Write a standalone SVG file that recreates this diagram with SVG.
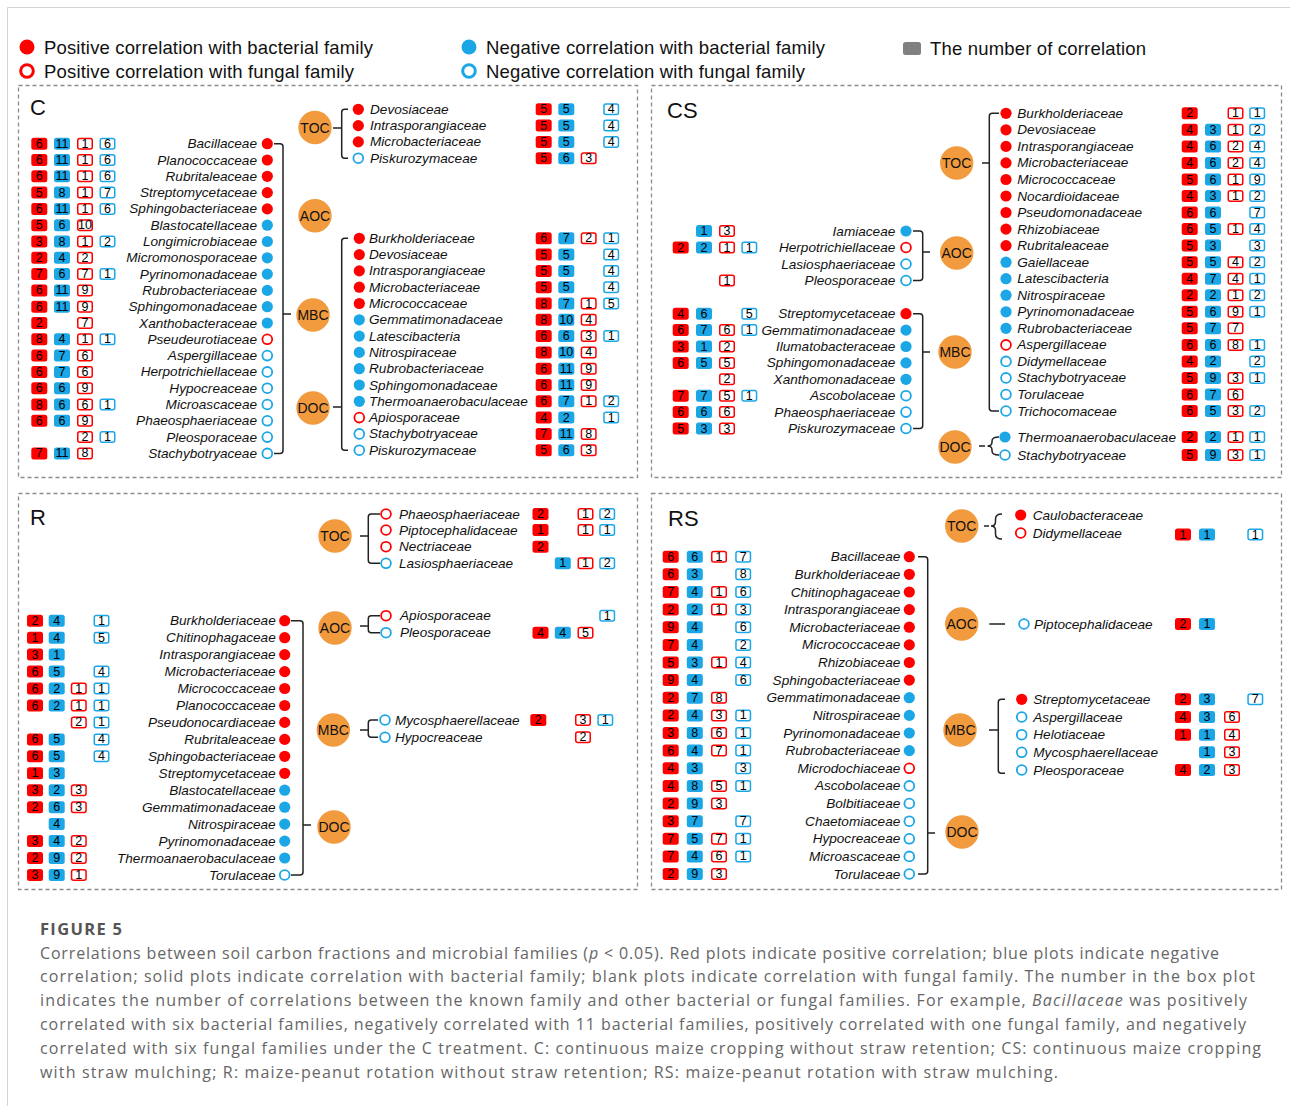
<svg xmlns="http://www.w3.org/2000/svg" xmlns:xlink="http://www.w3.org/1999/xlink" width="1290" height="1106" viewBox="0 0 1290 1106">
<style>
.f{font-family:"Liberation Sans",Arial,sans-serif;font-style:italic;font-size:13.6px;fill:#111;dominant-baseline:central}
.e{text-anchor:end}
.n{font-family:"Liberation Sans",Arial,sans-serif;font-size:12.5px;text-anchor:middle;dominant-baseline:central;fill:#000}
.hub circle{fill:#F19A3E}
.hub text{font-family:"Liberation Sans",Arial,sans-serif;font-size:14px;text-anchor:middle;dominant-baseline:central;fill:#111}
.pl{font-family:"Liberation Sans",Arial,sans-serif;font-size:22px;fill:#111}
.lg{font-family:"Liberation Sans",Arial,sans-serif;font-size:18.5px;fill:#111;dominant-baseline:central}
.panel{fill:none;stroke:#8c8c8c;stroke-width:1.3;stroke-dasharray:4 3}
.br{fill:none;stroke:#222;stroke-width:1.5}
.cap{font-family:"Open Sans","Liberation Sans",sans-serif;font-size:16px;fill:#666}
.caph{font-family:"Open Sans","Liberation Sans",sans-serif;font-size:16.5px;font-weight:bold;fill:#555}
</style>
<defs>
<rect id="RF" x="-8" y="-6" width="16" height="12" rx="2.5" fill="#FF0000"/>
<rect id="BF" x="-8" y="-6" width="16" height="12" rx="2.5" fill="#1BA6E6"/>
<rect id="RO" x="-7.25" y="-5.25" width="14.5" height="10.5" rx="2" fill="#fff" stroke="#FF0000" stroke-width="1.5"/>
<rect id="BO" x="-7.25" y="-5.25" width="14.5" height="10.5" rx="2" fill="#fff" stroke="#1BA6E6" stroke-width="1.5"/>
<circle id="DR" r="5.6" fill="#FF0000"/>
<circle id="DB" r="5.6" fill="#1BA6E6"/>
<circle id="OR" r="4.9" fill="#fff" stroke="#FF0000" stroke-width="1.8"/>
<circle id="OB" r="4.9" fill="#fff" stroke="#1BA6E6" stroke-width="1.8"/>
</defs>
<rect width="1290" height="1106" fill="#fff"/>
<path d="M7.5 1106 V7.5 H1290" fill="none" stroke="#d4d4d4" stroke-width="1"/>

<g id="legend">
<circle cx="27" cy="47" r="7.5" fill="#FF0000"/>
<text class="lg" x="44" y="47" textLength="329">Positive correlation with bacterial family</text>
<circle cx="27" cy="71" r="6.3" fill="#fff" stroke="#FF0000" stroke-width="3"/>
<text class="lg" x="44" y="71" textLength="310">Positive correlation with fungal family</text>
<circle cx="469" cy="47" r="7.5" fill="#1BA6E6"/>
<text class="lg" x="486" y="47" textLength="339">Negative correlation with bacterial family</text>
<circle cx="469" cy="71" r="6.3" fill="#fff" stroke="#1BA6E6" stroke-width="3"/>
<text class="lg" x="486" y="71" textLength="319">Negative correlation with fungal family</text>
<rect x="903" y="42" width="18" height="13" rx="2.5" fill="#808080"/>
<text class="lg" x="930" y="48" textLength="216">The number of correlation</text>
</g>

<g id="panels">
<rect class="panel" x="18.5" y="85.5" width="619" height="392"/>
<rect class="panel" x="651.5" y="85.5" width="630" height="392"/>
<rect class="panel" x="18.5" y="493.5" width="619" height="396"/>
<rect class="panel" x="651.5" y="493.5" width="630" height="396"/>
<text class="pl" x="30" y="115">C</text>
<text class="pl" x="667" y="118">CS</text>
<text class="pl" x="30" y="525">R</text>
<text class="pl" x="668" y="526">RS</text>
</g>

<g id="connectors">
<path class="br" d="M274 143.7 H280 Q283 143.7 283 146.7 V450.4 Q283 453.4 280 453.4 H274 M283 314 H291"/>
<path class="br" d="M348 109.3 H344.7 Q341.7 109.3 341.7 112.3 V155.2 Q341.7 158.2 344.7 158.2 H348 M341.7 128 H333"/>
<path class="br" d="M348 238.3 H344.7 Q341.7 238.3 341.7 241.3 V447.2 Q341.7 450.2 344.7 450.2 H348 M341.7 407 H333"/>
<path class="br" d="M913 231 H919.7 Q922.7 231 922.7 234 V277.5 Q922.7 280.5 919.7 280.5 H913 M922.7 252 H930"/>
<path class="br" d="M913 313.7 H919.7 Q922.7 313.7 922.7 316.7 V425.5 Q922.7 428.5 919.7 428.5 H913 M922.7 352 H930"/>
<path class="br" d="M999 113.3 H992.3 Q989.3 113.3 989.3 116.3 V408 Q989.3 411 992.3 411 H999 M989.3 163 H982"/>
<path class="br" d="M999 437 Q992 437 992 441 V442 Q992 446 987.5 446 Q992 446 992 450 V451 Q992 455 999 455 M979 446 H985"/>
<path class="br" d="M291 620.7 H300 Q303 620.7 303 623.7 V872 Q303 875 300 875 H291 M303 825 H311"/>
<path class="br" d="M380 514 H371.3 Q368.3 514 368.3 517 V560.3 Q368.3 563.3 371.3 563.3 H380 M368.3 536 H360"/>
<path class="br" d="M380 615.7 H371.3 Q368.3 615.7 368.3 618.7 V629.7 Q368.3 632.7 371.3 632.7 H380 M368.3 626 H360"/>
<path class="br" d="M378 720 H371.3 Q368.3 720 368.3 723 V734.3 Q368.3 737.3 371.3 737.3 H378 M368.3 730 H360"/>
<path class="br" d="M918 556.7 H924.7 Q927.7 556.7 927.7 559.7 V871 Q927.7 874 924.7 874 H918 M927.7 833 H935"/>
<path class="br" d="M1002 514 Q995.5 514 995.5 519 V521.5 Q995.5 526 991 526 Q995.5 526 995.5 530.5 V534 Q995.5 539 1002 539 M984 526 H989"/>
<path class="br" d="M989.3 624 H1005"/>
<path class="br" d="M1005 699.3 H1001.3 Q998.3 699.3 998.3 702.3 V770.3 Q998.3 773.3 1001.3 773.3 H1005 M998.3 730 H989"/>
</g>

<!-- hubs -->
<g id="c-toc" class="hub"><circle cx="315" cy="127.5" r="16.7"/><text x="315" y="127.5">TOC</text></g>
<g id="c-aoc" class="hub"><circle cx="315" cy="215.7" r="16.7"/><text x="315" y="215.7">AOC</text></g>
<g id="c-mbc" class="hub"><circle cx="313" cy="315" r="16.7"/><text x="313" y="315">MBC</text></g>
<g id="c-doc" class="hub"><circle cx="313" cy="408" r="16.7"/><text x="313" y="408">DOC</text></g>
<g id="cs-toc" class="hub"><circle cx="956.7" cy="163" r="16.7"/><text x="956.7" y="163">TOC</text></g>
<g id="cs-aoc" class="hub"><circle cx="956.7" cy="253" r="16.7"/><text x="956.7" y="253">AOC</text></g>
<g id="cs-mbc" class="hub"><circle cx="955" cy="352" r="16.7"/><text x="955" y="352">MBC</text></g>
<g id="cs-doc" class="hub"><circle cx="955" cy="447" r="16.7"/><text x="955" y="447">DOC</text></g>
<g id="r-toc" class="hub"><circle cx="335" cy="536" r="16.7"/><text x="335" y="536">TOC</text></g>
<g id="r-aoc" class="hub"><circle cx="335" cy="628" r="16.7"/><text x="335" y="628">AOC</text></g>
<g id="r-mbc" class="hub"><circle cx="333.3" cy="730" r="16.7"/><text x="333.3" y="730">MBC</text></g>
<g id="r-doc" class="hub"><circle cx="334" cy="827" r="16.7"/><text x="334" y="827">DOC</text></g>
<g id="rs-toc" class="hub"><circle cx="961.7" cy="526" r="16.7"/><text x="961.7" y="526">TOC</text></g>
<g id="rs-aoc" class="hub"><circle cx="961.7" cy="624" r="16.7"/><text x="961.7" y="624">AOC</text></g>
<g id="rs-mbc" class="hub"><circle cx="960" cy="730" r="16.7"/><text x="960" y="730">MBC</text></g>
<g id="rs-doc" class="hub"><circle cx="962" cy="832" r="16.7"/><text x="962" y="832">DOC</text></g>

<!-- C left (MBC) -->
<g id="c-mbc-01" transform="translate(0,143.7)"><use href="#DR" x="267.3"/><text class="f e" x="257">Bacillaceae</text><use href="#RF" x="39.3"/><text class="n" x="39.3">6</text><use href="#BF" x="62"/><text class="n" x="62">11</text><use href="#RO" x="85"/><text class="n" x="85">1</text><use href="#BO" x="107.5"/><text class="n" x="107.5">6</text></g>
<g id="c-mbc-02" transform="translate(0,160)"><use href="#DR" x="267.3"/><text class="f e" x="257">Planococcaceae</text><use href="#RF" x="39.3"/><text class="n" x="39.3">6</text><use href="#BF" x="62"/><text class="n" x="62">11</text><use href="#RO" x="85"/><text class="n" x="85">1</text><use href="#BO" x="107.5"/><text class="n" x="107.5">6</text></g>
<g id="c-mbc-03" transform="translate(0,176.3)"><use href="#DR" x="267.3"/><text class="f e" x="257">Rubritaleaceae</text><use href="#RF" x="39.3"/><text class="n" x="39.3">6</text><use href="#BF" x="62"/><text class="n" x="62">11</text><use href="#RO" x="85"/><text class="n" x="85">1</text><use href="#BO" x="107.5"/><text class="n" x="107.5">6</text></g>
<g id="c-mbc-04" transform="translate(0,192.6)"><use href="#DR" x="267.3"/><text class="f e" x="257">Streptomycetaceae</text><use href="#RF" x="39.3"/><text class="n" x="39.3">5</text><use href="#BF" x="62"/><text class="n" x="62">8</text><use href="#RO" x="85"/><text class="n" x="85">1</text><use href="#BO" x="107.5"/><text class="n" x="107.5">7</text></g>
<g id="c-mbc-05" transform="translate(0,208.9)"><use href="#DR" x="267.3"/><text class="f e" x="257">Sphingobacteriaceae</text><use href="#RF" x="39.3"/><text class="n" x="39.3">6</text><use href="#BF" x="62"/><text class="n" x="62">11</text><use href="#RO" x="85"/><text class="n" x="85">1</text><use href="#BO" x="107.5"/><text class="n" x="107.5">6</text></g>
<g id="c-mbc-06" transform="translate(0,225.2)"><use href="#DB" x="267.3"/><text class="f e" x="257">Blastocatellaceae</text><use href="#RF" x="39.3"/><text class="n" x="39.3">5</text><use href="#BF" x="62"/><text class="n" x="62">6</text><use href="#RO" x="85"/><text class="n" x="85">10</text></g>
<g id="c-mbc-07" transform="translate(0,241.5)"><use href="#DB" x="267.3"/><text class="f e" x="257">Longimicrobiaceae</text><use href="#RF" x="39.3"/><text class="n" x="39.3">3</text><use href="#BF" x="62"/><text class="n" x="62">8</text><use href="#RO" x="85"/><text class="n" x="85">1</text><use href="#BO" x="107.5"/><text class="n" x="107.5">2</text></g>
<g id="c-mbc-08" transform="translate(0,257.8)"><use href="#DB" x="267.3"/><text class="f e" x="257">Micromonosporaceae</text><use href="#RF" x="39.3"/><text class="n" x="39.3">2</text><use href="#BF" x="62"/><text class="n" x="62">4</text><use href="#RO" x="85"/><text class="n" x="85">2</text></g>
<g id="c-mbc-09" transform="translate(0,274.1)"><use href="#DB" x="267.3"/><text class="f e" x="257">Pyrinomonadaceae</text><use href="#RF" x="39.3"/><text class="n" x="39.3">7</text><use href="#BF" x="62"/><text class="n" x="62">6</text><use href="#RO" x="85"/><text class="n" x="85">7</text><use href="#BO" x="107.5"/><text class="n" x="107.5">1</text></g>
<g id="c-mbc-10" transform="translate(0,290.4)"><use href="#DB" x="267.3"/><text class="f e" x="257">Rubrobacteriaceae</text><use href="#RF" x="39.3"/><text class="n" x="39.3">6</text><use href="#BF" x="62"/><text class="n" x="62">11</text><use href="#RO" x="85"/><text class="n" x="85">9</text></g>
<g id="c-mbc-11" transform="translate(0,306.7)"><use href="#DB" x="267.3"/><text class="f e" x="257">Sphingomonadaceae</text><use href="#RF" x="39.3"/><text class="n" x="39.3">6</text><use href="#BF" x="62"/><text class="n" x="62">11</text><use href="#RO" x="85"/><text class="n" x="85">9</text></g>
<g id="c-mbc-12" transform="translate(0,323)"><use href="#DB" x="267.3"/><text class="f e" x="257">Xanthobacteraceae</text><use href="#RF" x="39.3"/><text class="n" x="39.3">2</text><use href="#RO" x="85"/><text class="n" x="85">7</text></g>
<g id="c-mbc-13" transform="translate(0,339.3)"><use href="#OR" x="267.3"/><text class="f e" x="257">Pseudeurotiaceae</text><use href="#RF" x="39.3"/><text class="n" x="39.3">8</text><use href="#BF" x="62"/><text class="n" x="62">4</text><use href="#RO" x="85"/><text class="n" x="85">1</text><use href="#BO" x="107.5"/><text class="n" x="107.5">1</text></g>
<g id="c-mbc-14" transform="translate(0,355.6)"><use href="#OB" x="267.3"/><text class="f e" x="257">Aspergillaceae</text><use href="#RF" x="39.3"/><text class="n" x="39.3">6</text><use href="#BF" x="62"/><text class="n" x="62">7</text><use href="#RO" x="85"/><text class="n" x="85">6</text></g>
<g id="c-mbc-15" transform="translate(0,371.9)"><use href="#OB" x="267.3"/><text class="f e" x="257">Herpotrichiellaceae</text><use href="#RF" x="39.3"/><text class="n" x="39.3">6</text><use href="#BF" x="62"/><text class="n" x="62">7</text><use href="#RO" x="85"/><text class="n" x="85">6</text></g>
<g id="c-mbc-16" transform="translate(0,388.2)"><use href="#OB" x="267.3"/><text class="f e" x="257">Hypocreaceae</text><use href="#RF" x="39.3"/><text class="n" x="39.3">6</text><use href="#BF" x="62"/><text class="n" x="62">6</text><use href="#RO" x="85"/><text class="n" x="85">9</text></g>
<g id="c-mbc-17" transform="translate(0,404.5)"><use href="#OB" x="267.3"/><text class="f e" x="257">Microascaceae</text><use href="#RF" x="39.3"/><text class="n" x="39.3">8</text><use href="#BF" x="62"/><text class="n" x="62">6</text><use href="#RO" x="85"/><text class="n" x="85">6</text><use href="#BO" x="107.5"/><text class="n" x="107.5">1</text></g>
<g id="c-mbc-18" transform="translate(0,420.8)"><use href="#OB" x="267.3"/><text class="f e" x="257">Phaeosphaeriaceae</text><use href="#RF" x="39.3"/><text class="n" x="39.3">6</text><use href="#BF" x="62"/><text class="n" x="62">6</text><use href="#RO" x="85"/><text class="n" x="85">9</text></g>
<g id="c-mbc-19" transform="translate(0,437.1)"><use href="#OB" x="267.3"/><text class="f e" x="257">Pleosporaceae</text><use href="#RO" x="85"/><text class="n" x="85">2</text><use href="#BO" x="107.5"/><text class="n" x="107.5">1</text></g>
<g id="c-mbc-20" transform="translate(0,453.4)"><use href="#OB" x="267.3"/><text class="f e" x="257">Stachybotryaceae</text><use href="#RF" x="39.3"/><text class="n" x="39.3">7</text><use href="#BF" x="62"/><text class="n" x="62">11</text><use href="#RO" x="85"/><text class="n" x="85">8</text></g>

<!-- C TOC -->
<g id="c-toc-1" transform="translate(0,109.3)"><use href="#DR" x="358.3"/><text class="f" x="370">Devosiaceae</text><use href="#RF" x="543.7"/><text class="n" x="543.7">5</text><use href="#BF" x="566.3"/><text class="n" x="566.3">5</text><use href="#BO" x="611.2"/><text class="n" x="611.2">4</text></g>
<g id="c-toc-2" transform="translate(0,125.6)"><use href="#DR" x="358.3"/><text class="f" x="370">Intrasporangiaceae</text><use href="#RF" x="543.7"/><text class="n" x="543.7">5</text><use href="#BF" x="566.3"/><text class="n" x="566.3">5</text><use href="#BO" x="611.2"/><text class="n" x="611.2">4</text></g>
<g id="c-toc-3" transform="translate(0,141.9)"><use href="#DR" x="358.3"/><text class="f" x="370">Microbacteriaceae</text><use href="#RF" x="543.7"/><text class="n" x="543.7">5</text><use href="#BF" x="566.3"/><text class="n" x="566.3">5</text><use href="#BO" x="611.2"/><text class="n" x="611.2">4</text></g>
<g id="c-toc-4" transform="translate(0,158.2)"><use href="#OB" x="358.3"/><text class="f" x="370">Piskurozymaceae</text><use href="#RF" x="543.7"/><text class="n" x="543.7">5</text><use href="#BF" x="566.3"/><text class="n" x="566.3">6</text><use href="#RO" x="588.7"/><text class="n" x="588.7">3</text></g>

<!-- C DOC -->
<g id="c-doc-01" transform="translate(0,238.3)"><use href="#DR" x="359.3"/><text class="f" x="369">Burkholderiaceae</text><use href="#RF" x="543.7"/><text class="n" x="543.7">6</text><use href="#BF" x="566.3"/><text class="n" x="566.3">7</text><use href="#RO" x="588.7"/><text class="n" x="588.7">2</text><use href="#BO" x="611.2"/><text class="n" x="611.2">1</text></g>
<g id="c-doc-02" transform="translate(0,254.6)"><use href="#DR" x="359.3"/><text class="f" x="369">Devosiaceae</text><use href="#RF" x="543.7"/><text class="n" x="543.7">5</text><use href="#BF" x="566.3"/><text class="n" x="566.3">5</text><use href="#BO" x="611.2"/><text class="n" x="611.2">4</text></g>
<g id="c-doc-03" transform="translate(0,270.9)"><use href="#DR" x="359.3"/><text class="f" x="369">Intrasporangiaceae</text><use href="#RF" x="543.7"/><text class="n" x="543.7">5</text><use href="#BF" x="566.3"/><text class="n" x="566.3">5</text><use href="#BO" x="611.2"/><text class="n" x="611.2">4</text></g>
<g id="c-doc-04" transform="translate(0,287.2)"><use href="#DR" x="359.3"/><text class="f" x="369">Microbacteriaceae</text><use href="#RF" x="543.7"/><text class="n" x="543.7">5</text><use href="#BF" x="566.3"/><text class="n" x="566.3">5</text><use href="#BO" x="611.2"/><text class="n" x="611.2">4</text></g>
<g id="c-doc-05" transform="translate(0,303.5)"><use href="#DR" x="359.3"/><text class="f" x="369">Micrococcaceae</text><use href="#RF" x="543.7"/><text class="n" x="543.7">8</text><use href="#BF" x="566.3"/><text class="n" x="566.3">7</text><use href="#RO" x="588.7"/><text class="n" x="588.7">1</text><use href="#BO" x="611.2"/><text class="n" x="611.2">5</text></g>
<g id="c-doc-06" transform="translate(0,319.8)"><use href="#DB" x="359.3"/><text class="f" x="369">Gemmatimonadaceae</text><use href="#RF" x="543.7"/><text class="n" x="543.7">8</text><use href="#BF" x="566.3"/><text class="n" x="566.3">10</text><use href="#RO" x="588.7"/><text class="n" x="588.7">4</text></g>
<g id="c-doc-07" transform="translate(0,336.1)"><use href="#DB" x="359.3"/><text class="f" x="369">Latescibacteria</text><use href="#RF" x="543.7"/><text class="n" x="543.7">6</text><use href="#BF" x="566.3"/><text class="n" x="566.3">6</text><use href="#RO" x="588.7"/><text class="n" x="588.7">3</text><use href="#BO" x="611.2"/><text class="n" x="611.2">1</text></g>
<g id="c-doc-08" transform="translate(0,352.4)"><use href="#DB" x="359.3"/><text class="f" x="369">Nitrospiraceae</text><use href="#RF" x="543.7"/><text class="n" x="543.7">8</text><use href="#BF" x="566.3"/><text class="n" x="566.3">10</text><use href="#RO" x="588.7"/><text class="n" x="588.7">4</text></g>
<g id="c-doc-09" transform="translate(0,368.7)"><use href="#DB" x="359.3"/><text class="f" x="369">Rubrobacteriaceae</text><use href="#RF" x="543.7"/><text class="n" x="543.7">6</text><use href="#BF" x="566.3"/><text class="n" x="566.3">11</text><use href="#RO" x="588.7"/><text class="n" x="588.7">9</text></g>
<g id="c-doc-10" transform="translate(0,385)"><use href="#DB" x="359.3"/><text class="f" x="369">Sphingomonadaceae</text><use href="#RF" x="543.7"/><text class="n" x="543.7">6</text><use href="#BF" x="566.3"/><text class="n" x="566.3">11</text><use href="#RO" x="588.7"/><text class="n" x="588.7">9</text></g>
<g id="c-doc-11" transform="translate(0,401.3)"><use href="#DB" x="359.3"/><text class="f" x="369">Thermoanaerobaculaceae</text><use href="#RF" x="543.7"/><text class="n" x="543.7">6</text><use href="#BF" x="566.3"/><text class="n" x="566.3">7</text><use href="#RO" x="588.7"/><text class="n" x="588.7">1</text><use href="#BO" x="611.2"/><text class="n" x="611.2">2</text></g>
<g id="c-doc-12" transform="translate(0,417.6)"><use href="#OR" x="359.3"/><text class="f" x="369">Apiosporaceae</text><use href="#RF" x="543.7"/><text class="n" x="543.7">4</text><use href="#BF" x="566.3"/><text class="n" x="566.3">2</text><use href="#BO" x="611.2"/><text class="n" x="611.2">1</text></g>
<g id="c-doc-13" transform="translate(0,433.9)"><use href="#OB" x="359.3"/><text class="f" x="369">Stachybotryaceae</text><use href="#RF" x="543.7"/><text class="n" x="543.7">7</text><use href="#BF" x="566.3"/><text class="n" x="566.3">11</text><use href="#RO" x="588.7"/><text class="n" x="588.7">8</text></g>
<g id="c-doc-14" transform="translate(0,450.2)"><use href="#OB" x="359.3"/><text class="f" x="369">Piskurozymaceae</text><use href="#RF" x="543.7"/><text class="n" x="543.7">5</text><use href="#BF" x="566.3"/><text class="n" x="566.3">6</text><use href="#RO" x="588.7"/><text class="n" x="588.7">3</text></g>

<!-- CS AOC -->
<g id="cs-aoc-1" transform="translate(0,231)"><use href="#DB" x="906"/><text class="f e" x="895.3">Iamiaceae</text><use href="#BF" x="704"/><text class="n" x="704">1</text><use href="#RO" x="727"/><text class="n" x="727">3</text></g>
<g id="cs-aoc-2" transform="translate(0,247.5)"><use href="#OR" x="906"/><text class="f e" x="895.3">Herpotrichiellaceae</text><use href="#RF" x="680.7"/><text class="n" x="680.7">2</text><use href="#BF" x="704"/><text class="n" x="704">2</text><use href="#RO" x="727"/><text class="n" x="727">1</text><use href="#BO" x="749.3"/><text class="n" x="749.3">1</text></g>
<g id="cs-aoc-3" transform="translate(0,264)"><use href="#OB" x="906"/><text class="f e" x="895.3">Lasiosphaeriaceae</text></g>
<g id="cs-aoc-4" transform="translate(0,280.5)"><use href="#OB" x="906"/><text class="f e" x="895.3">Pleosporaceae</text><use href="#RO" x="727"/><text class="n" x="727">1</text></g>

<!-- CS MBC -->
<g id="cs-mbc-1" transform="translate(0,313.7)"><use href="#DR" x="906"/><text class="f e" x="895.3">Streptomycetaceae</text><use href="#RF" x="680.7"/><text class="n" x="680.7">4</text><use href="#BF" x="704"/><text class="n" x="704">6</text><use href="#BO" x="749.3"/><text class="n" x="749.3">5</text></g>
<g id="cs-mbc-2" transform="translate(0,330.1)"><use href="#DB" x="906"/><text class="f e" x="895.3">Gemmatimonadaceae</text><use href="#RF" x="680.7"/><text class="n" x="680.7">6</text><use href="#BF" x="704"/><text class="n" x="704">7</text><use href="#RO" x="727"/><text class="n" x="727">6</text><use href="#BO" x="749.3"/><text class="n" x="749.3">1</text></g>
<g id="cs-mbc-3" transform="translate(0,346.5)"><use href="#DB" x="906"/><text class="f e" x="895.3">Ilumatobacteraceae</text><use href="#RF" x="680.7"/><text class="n" x="680.7">3</text><use href="#BF" x="704"/><text class="n" x="704">1</text><use href="#RO" x="727"/><text class="n" x="727">2</text></g>
<g id="cs-mbc-4" transform="translate(0,362.9)"><use href="#DB" x="906"/><text class="f e" x="895.3">Sphingomonadaceae</text><use href="#RF" x="680.7"/><text class="n" x="680.7">6</text><use href="#BF" x="704"/><text class="n" x="704">5</text><use href="#RO" x="727"/><text class="n" x="727">5</text></g>
<g id="cs-mbc-5" transform="translate(0,379.3)"><use href="#DB" x="906"/><text class="f e" x="895.3">Xanthomonadaceae</text><use href="#RO" x="727"/><text class="n" x="727">2</text></g>
<g id="cs-mbc-6" transform="translate(0,395.7)"><use href="#OB" x="906"/><text class="f e" x="895.3">Ascobolaceae</text><use href="#RF" x="680.7"/><text class="n" x="680.7">7</text><use href="#BF" x="704"/><text class="n" x="704">7</text><use href="#RO" x="727"/><text class="n" x="727">5</text><use href="#BO" x="749.3"/><text class="n" x="749.3">1</text></g>
<g id="cs-mbc-7" transform="translate(0,412.1)"><use href="#OB" x="906"/><text class="f e" x="895.3">Phaeosphaeriaceae</text><use href="#RF" x="680.7"/><text class="n" x="680.7">6</text><use href="#BF" x="704"/><text class="n" x="704">6</text><use href="#RO" x="727"/><text class="n" x="727">6</text></g>
<g id="cs-mbc-8" transform="translate(0,428.5)"><use href="#OB" x="906"/><text class="f e" x="895.3">Piskurozymaceae</text><use href="#RF" x="680.7"/><text class="n" x="680.7">5</text><use href="#BF" x="704"/><text class="n" x="704">3</text><use href="#RO" x="727"/><text class="n" x="727">3</text></g>

<!-- CS TOC -->
<g id="cs-toc-01" transform="translate(0,113.3)"><use href="#DR" x="1006"/><text class="f" x="1017.3">Burkholderiaceae</text><use href="#RF" x="1189.7"/><text class="n" x="1189.7">2</text><use href="#RO" x="1235.5"/><text class="n" x="1235.5">1</text><use href="#BO" x="1257.2"/><text class="n" x="1257.2">1</text></g>
<g id="cs-toc-02" transform="translate(0,129.8)"><use href="#DR" x="1006"/><text class="f" x="1017.3">Devosiaceae</text><use href="#RF" x="1189.7"/><text class="n" x="1189.7">4</text><use href="#BF" x="1213"/><text class="n" x="1213">3</text><use href="#RO" x="1235.5"/><text class="n" x="1235.5">1</text><use href="#BO" x="1257.2"/><text class="n" x="1257.2">2</text></g>
<g id="cs-toc-03" transform="translate(0,146.4)"><use href="#DR" x="1006"/><text class="f" x="1017.3">Intrasporangiaceae</text><use href="#RF" x="1189.7"/><text class="n" x="1189.7">4</text><use href="#BF" x="1213"/><text class="n" x="1213">6</text><use href="#RO" x="1235.5"/><text class="n" x="1235.5">2</text><use href="#BO" x="1257.2"/><text class="n" x="1257.2">4</text></g>
<g id="cs-toc-04" transform="translate(0,162.9)"><use href="#DR" x="1006"/><text class="f" x="1017.3">Microbacteriaceae</text><use href="#RF" x="1189.7"/><text class="n" x="1189.7">4</text><use href="#BF" x="1213"/><text class="n" x="1213">6</text><use href="#RO" x="1235.5"/><text class="n" x="1235.5">2</text><use href="#BO" x="1257.2"/><text class="n" x="1257.2">4</text></g>
<g id="cs-toc-05" transform="translate(0,179.5)"><use href="#DR" x="1006"/><text class="f" x="1017.3">Micrococcaceae</text><use href="#RF" x="1189.7"/><text class="n" x="1189.7">5</text><use href="#BF" x="1213"/><text class="n" x="1213">6</text><use href="#RO" x="1235.5"/><text class="n" x="1235.5">1</text><use href="#BO" x="1257.2"/><text class="n" x="1257.2">9</text></g>
<g id="cs-toc-06" transform="translate(0,196)"><use href="#DR" x="1006"/><text class="f" x="1017.3">Nocardioidaceae</text><use href="#RF" x="1189.7"/><text class="n" x="1189.7">4</text><use href="#BF" x="1213"/><text class="n" x="1213">3</text><use href="#RO" x="1235.5"/><text class="n" x="1235.5">1</text><use href="#BO" x="1257.2"/><text class="n" x="1257.2">2</text></g>
<g id="cs-toc-07" transform="translate(0,212.5)"><use href="#DR" x="1006"/><text class="f" x="1017.3">Pseudomonadaceae</text><use href="#RF" x="1189.7"/><text class="n" x="1189.7">6</text><use href="#BF" x="1213"/><text class="n" x="1213">6</text><use href="#BO" x="1257.2"/><text class="n" x="1257.2">7</text></g>
<g id="cs-toc-08" transform="translate(0,229.1)"><use href="#DR" x="1006"/><text class="f" x="1017.3">Rhizobiaceae</text><use href="#RF" x="1189.7"/><text class="n" x="1189.7">6</text><use href="#BF" x="1213"/><text class="n" x="1213">5</text><use href="#RO" x="1235.5"/><text class="n" x="1235.5">1</text><use href="#BO" x="1257.2"/><text class="n" x="1257.2">4</text></g>
<g id="cs-toc-09" transform="translate(0,245.6)"><use href="#DR" x="1006"/><text class="f" x="1017.3">Rubritaleaceae</text><use href="#RF" x="1189.7"/><text class="n" x="1189.7">5</text><use href="#BF" x="1213"/><text class="n" x="1213">3</text><use href="#BO" x="1257.2"/><text class="n" x="1257.2">3</text></g>
<g id="cs-toc-10" transform="translate(0,262.2)"><use href="#DB" x="1006"/><text class="f" x="1017.3">Gaiellaceae</text><use href="#RF" x="1189.7"/><text class="n" x="1189.7">5</text><use href="#BF" x="1213"/><text class="n" x="1213">5</text><use href="#RO" x="1235.5"/><text class="n" x="1235.5">4</text><use href="#BO" x="1257.2"/><text class="n" x="1257.2">2</text></g>
<g id="cs-toc-11" transform="translate(0,278.7)"><use href="#DB" x="1006"/><text class="f" x="1017.3">Latescibacteria</text><use href="#RF" x="1189.7"/><text class="n" x="1189.7">4</text><use href="#BF" x="1213"/><text class="n" x="1213">7</text><use href="#RO" x="1235.5"/><text class="n" x="1235.5">4</text><use href="#BO" x="1257.2"/><text class="n" x="1257.2">1</text></g>
<g id="cs-toc-12" transform="translate(0,295.2)"><use href="#DB" x="1006"/><text class="f" x="1017.3">Nitrospiraceae</text><use href="#RF" x="1189.7"/><text class="n" x="1189.7">2</text><use href="#BF" x="1213"/><text class="n" x="1213">2</text><use href="#RO" x="1235.5"/><text class="n" x="1235.5">1</text><use href="#BO" x="1257.2"/><text class="n" x="1257.2">2</text></g>
<g id="cs-toc-13" transform="translate(0,311.8)"><use href="#DB" x="1006"/><text class="f" x="1017.3">Pyrinomonadaceae</text><use href="#RF" x="1189.7"/><text class="n" x="1189.7">5</text><use href="#BF" x="1213"/><text class="n" x="1213">6</text><use href="#RO" x="1235.5"/><text class="n" x="1235.5">9</text><use href="#BO" x="1257.2"/><text class="n" x="1257.2">1</text></g>
<g id="cs-toc-14" transform="translate(0,328.3)"><use href="#DB" x="1006"/><text class="f" x="1017.3">Rubrobacteriaceae</text><use href="#RF" x="1189.7"/><text class="n" x="1189.7">5</text><use href="#BF" x="1213"/><text class="n" x="1213">7</text><use href="#RO" x="1235.5"/><text class="n" x="1235.5">7</text></g>
<g id="cs-toc-15" transform="translate(0,344.9)"><use href="#OR" x="1006"/><text class="f" x="1017.3">Aspergillaceae</text><use href="#RF" x="1189.7"/><text class="n" x="1189.7">6</text><use href="#BF" x="1213"/><text class="n" x="1213">6</text><use href="#RO" x="1235.5"/><text class="n" x="1235.5">8</text><use href="#BO" x="1257.2"/><text class="n" x="1257.2">1</text></g>
<g id="cs-toc-16" transform="translate(0,361.4)"><use href="#OB" x="1006"/><text class="f" x="1017.3">Didymellaceae</text><use href="#RF" x="1189.7"/><text class="n" x="1189.7">4</text><use href="#BF" x="1213"/><text class="n" x="1213">2</text><use href="#BO" x="1257.2"/><text class="n" x="1257.2">2</text></g>
<g id="cs-toc-17" transform="translate(0,377.9)"><use href="#OB" x="1006"/><text class="f" x="1017.3">Stachybotryaceae</text><use href="#RF" x="1189.7"/><text class="n" x="1189.7">5</text><use href="#BF" x="1213"/><text class="n" x="1213">9</text><use href="#RO" x="1235.5"/><text class="n" x="1235.5">3</text><use href="#BO" x="1257.2"/><text class="n" x="1257.2">1</text></g>
<g id="cs-toc-18" transform="translate(0,394.5)"><use href="#OB" x="1006"/><text class="f" x="1017.3">Torulaceae</text><use href="#RF" x="1189.7"/><text class="n" x="1189.7">6</text><use href="#BF" x="1213"/><text class="n" x="1213">7</text><use href="#RO" x="1235.5"/><text class="n" x="1235.5">6</text></g>
<g id="cs-toc-19" transform="translate(0,411)"><use href="#OB" x="1006"/><text class="f" x="1017.3">Trichocomaceae</text><use href="#RF" x="1189.7"/><text class="n" x="1189.7">6</text><use href="#BF" x="1213"/><text class="n" x="1213">5</text><use href="#RO" x="1235.5"/><text class="n" x="1235.5">3</text><use href="#BO" x="1257.2"/><text class="n" x="1257.2">2</text></g>

<!-- CS DOC -->
<g id="cs-doc-1" transform="translate(0,437)"><use href="#DB" x="1005"/><text class="f" x="1017.3">Thermoanaerobaculaceae</text><use href="#RF" x="1189.7"/><text class="n" x="1189.7">2</text><use href="#BF" x="1213"/><text class="n" x="1213">2</text><use href="#RO" x="1235.5"/><text class="n" x="1235.5">1</text><use href="#BO" x="1257.2"/><text class="n" x="1257.2">1</text></g>
<g id="cs-doc-2" transform="translate(0,455)"><use href="#OB" x="1005"/><text class="f" x="1017.3">Stachybotryaceae</text><use href="#RF" x="1189.7"/><text class="n" x="1189.7">5</text><use href="#BF" x="1213"/><text class="n" x="1213">9</text><use href="#RO" x="1235.5"/><text class="n" x="1235.5">3</text><use href="#BO" x="1257.2"/><text class="n" x="1257.2">1</text></g>

<!-- R left (DOC) -->
<g id="r-doc-01" transform="translate(0,620.7)"><use href="#DR" x="284.7"/><text class="f e" x="275.7">Burkholderiaceae</text><use href="#RF" x="35"/><text class="n" x="35">2</text><use href="#BF" x="56.7"/><text class="n" x="56.7">4</text><use href="#BO" x="101.5"/><text class="n" x="101.5">1</text></g>
<g id="r-doc-02" transform="translate(0,637.7)"><use href="#DR" x="284.7"/><text class="f e" x="275.7">Chitinophagaceae</text><use href="#RF" x="35"/><text class="n" x="35">1</text><use href="#BF" x="56.7"/><text class="n" x="56.7">4</text><use href="#BO" x="101.5"/><text class="n" x="101.5">5</text></g>
<g id="r-doc-03" transform="translate(0,654.6)"><use href="#DR" x="284.7"/><text class="f e" x="275.7">Intrasporangiaceae</text><use href="#RF" x="35"/><text class="n" x="35">3</text><use href="#BF" x="56.7"/><text class="n" x="56.7">1</text></g>
<g id="r-doc-04" transform="translate(0,671.6)"><use href="#DR" x="284.7"/><text class="f e" x="275.7">Microbacteriaceae</text><use href="#RF" x="35"/><text class="n" x="35">6</text><use href="#BF" x="56.7"/><text class="n" x="56.7">5</text><use href="#BO" x="101.5"/><text class="n" x="101.5">4</text></g>
<g id="r-doc-05" transform="translate(0,688.5)"><use href="#DR" x="284.7"/><text class="f e" x="275.7">Micrococcaceae</text><use href="#RF" x="35"/><text class="n" x="35">6</text><use href="#BF" x="56.7"/><text class="n" x="56.7">2</text><use href="#RO" x="78.8"/><text class="n" x="78.8">1</text><use href="#BO" x="101.5"/><text class="n" x="101.5">1</text></g>
<g id="r-doc-06" transform="translate(0,705.5)"><use href="#DR" x="284.7"/><text class="f e" x="275.7">Planococcaceae</text><use href="#RF" x="35"/><text class="n" x="35">6</text><use href="#BF" x="56.7"/><text class="n" x="56.7">2</text><use href="#RO" x="78.8"/><text class="n" x="78.8">1</text><use href="#BO" x="101.5"/><text class="n" x="101.5">1</text></g>
<g id="r-doc-07" transform="translate(0,722.4)"><use href="#DR" x="284.7"/><text class="f e" x="275.7">Pseudonocardiaceae</text><use href="#RO" x="78.8"/><text class="n" x="78.8">2</text><use href="#BO" x="101.5"/><text class="n" x="101.5">1</text></g>
<g id="r-doc-08" transform="translate(0,739.4)"><use href="#DR" x="284.7"/><text class="f e" x="275.7">Rubritaleaceae</text><use href="#RF" x="35"/><text class="n" x="35">6</text><use href="#BF" x="56.7"/><text class="n" x="56.7">5</text><use href="#BO" x="101.5"/><text class="n" x="101.5">4</text></g>
<g id="r-doc-09" transform="translate(0,756.3)"><use href="#DR" x="284.7"/><text class="f e" x="275.7">Sphingobacteriaceae</text><use href="#RF" x="35"/><text class="n" x="35">6</text><use href="#BF" x="56.7"/><text class="n" x="56.7">5</text><use href="#BO" x="101.5"/><text class="n" x="101.5">4</text></g>
<g id="r-doc-10" transform="translate(0,773.3)"><use href="#DR" x="284.7"/><text class="f e" x="275.7">Streptomycetaceae</text><use href="#RF" x="35"/><text class="n" x="35">1</text><use href="#BF" x="56.7"/><text class="n" x="56.7">3</text></g>
<g id="r-doc-11" transform="translate(0,790.2)"><use href="#DB" x="284.7"/><text class="f e" x="275.7">Blastocatellaceae</text><use href="#RF" x="35"/><text class="n" x="35">3</text><use href="#BF" x="56.7"/><text class="n" x="56.7">2</text><use href="#RO" x="78.8"/><text class="n" x="78.8">3</text></g>
<g id="r-doc-12" transform="translate(0,807.2)"><use href="#DB" x="284.7"/><text class="f e" x="275.7">Gemmatimonadaceae</text><use href="#RF" x="35"/><text class="n" x="35">2</text><use href="#BF" x="56.7"/><text class="n" x="56.7">6</text><use href="#RO" x="78.8"/><text class="n" x="78.8">3</text></g>
<g id="r-doc-13" transform="translate(0,824.1)"><use href="#DB" x="284.7"/><text class="f e" x="275.7">Nitrospiraceae</text><use href="#BF" x="56.7"/><text class="n" x="56.7">4</text></g>
<g id="r-doc-14" transform="translate(0,841.1)"><use href="#DB" x="284.7"/><text class="f e" x="275.7">Pyrinomonadaceae</text><use href="#RF" x="35"/><text class="n" x="35">3</text><use href="#BF" x="56.7"/><text class="n" x="56.7">4</text><use href="#RO" x="78.8"/><text class="n" x="78.8">2</text></g>
<g id="r-doc-15" transform="translate(0,858)"><use href="#DB" x="284.7"/><text class="f e" x="275.7">Thermoanaerobaculaceae</text><use href="#RF" x="35"/><text class="n" x="35">2</text><use href="#BF" x="56.7"/><text class="n" x="56.7">9</text><use href="#RO" x="78.8"/><text class="n" x="78.8">2</text></g>
<g id="r-doc-16" transform="translate(0,875)"><use href="#OB" x="284.7"/><text class="f e" x="275.7">Torulaceae</text><use href="#RF" x="35"/><text class="n" x="35">3</text><use href="#BF" x="56.7"/><text class="n" x="56.7">9</text><use href="#RO" x="78.8"/><text class="n" x="78.8">1</text></g>

<!-- R TOC / AOC / MBC -->
<g id="r-toc-1" transform="translate(0,514)"><use href="#OR" x="386"/><text class="f" x="399">Phaeosphaeriaceae</text><use href="#RF" x="540.5"/><text class="n" x="540.5">2</text><use href="#RO" x="585.5"/><text class="n" x="585.5">1</text><use href="#BO" x="607.2"/><text class="n" x="607.2">2</text></g>
<g id="r-toc-2" transform="translate(0,530)"><use href="#OR" x="386"/><text class="f" x="399">Piptocephalidaceae</text><use href="#RF" x="540.5"/><text class="n" x="540.5">1</text><use href="#RO" x="585.5"/><text class="n" x="585.5">1</text><use href="#BO" x="607.2"/><text class="n" x="607.2">1</text></g>
<g id="r-toc-3" transform="translate(0,546.7)"><use href="#OR" x="386"/><text class="f" x="399">Nectriaceae</text><use href="#RF" x="540.5"/><text class="n" x="540.5">2</text></g>
<g id="r-toc-4" transform="translate(0,563.3)"><use href="#OB" x="386"/><text class="f" x="399">Lasiosphaeriaceae</text><use href="#BF" x="562.8"/><text class="n" x="562.8">1</text><use href="#RO" x="585.5"/><text class="n" x="585.5">1</text><use href="#BO" x="607.2"/><text class="n" x="607.2">2</text></g>
<g id="r-aoc-1" transform="translate(0,615.7)"><use href="#OR" x="386"/><text class="f" x="400">Apiosporaceae</text><use href="#BO" x="607.2"/><text class="n" x="607.2">1</text></g>
<g id="r-aoc-2" transform="translate(0,632.7)"><use href="#OB" x="386"/><text class="f" x="400">Pleosporaceae</text><use href="#RF" x="540.5"/><text class="n" x="540.5">4</text><use href="#BF" x="562.8"/><text class="n" x="562.8">4</text><use href="#RO" x="585.5"/><text class="n" x="585.5">5</text></g>
<g id="r-mbc-1" transform="translate(0,720)"><use href="#OB" x="385"/><text class="f" x="395">Mycosphaerellaceae</text><use href="#RF" x="538.3"/><text class="n" x="538.3">2</text><use href="#RO" x="583"/><text class="n" x="583">3</text><use href="#BO" x="605.3"/><text class="n" x="605.3">1</text></g>
<g id="r-mbc-2" transform="translate(0,737.3)"><use href="#OB" x="385"/><text class="f" x="395">Hypocreaceae</text><use href="#RO" x="583"/><text class="n" x="583">2</text></g>

<!-- RS left (DOC) -->
<g id="rs-doc-01" transform="translate(0,556.7)"><use href="#DR" x="909.3"/><text class="f e" x="900.3">Bacillaceae</text><use href="#RF" x="670.7"/><text class="n" x="670.7">6</text><use href="#BF" x="694.8"/><text class="n" x="694.8">6</text><use href="#RO" x="719"/><text class="n" x="719">1</text><use href="#BO" x="743.2"/><text class="n" x="743.2">7</text></g>
<g id="rs-doc-02" transform="translate(0,574.3)"><use href="#DR" x="909.3"/><text class="f e" x="900.3">Burkholderiaceae</text><use href="#RF" x="670.7"/><text class="n" x="670.7">6</text><use href="#BF" x="694.8"/><text class="n" x="694.8">3</text><use href="#BO" x="743.2"/><text class="n" x="743.2">8</text></g>
<g id="rs-doc-03" transform="translate(0,592)"><use href="#DR" x="909.3"/><text class="f e" x="900.3">Chitinophagaceae</text><use href="#RF" x="670.7"/><text class="n" x="670.7">7</text><use href="#BF" x="694.8"/><text class="n" x="694.8">4</text><use href="#RO" x="719"/><text class="n" x="719">1</text><use href="#BO" x="743.2"/><text class="n" x="743.2">6</text></g>
<g id="rs-doc-04" transform="translate(0,609.6)"><use href="#DR" x="909.3"/><text class="f e" x="900.3">Intrasporangiaceae</text><use href="#RF" x="670.7"/><text class="n" x="670.7">2</text><use href="#BF" x="694.8"/><text class="n" x="694.8">2</text><use href="#RO" x="719"/><text class="n" x="719">1</text><use href="#BO" x="743.2"/><text class="n" x="743.2">3</text></g>
<g id="rs-doc-05" transform="translate(0,627.2)"><use href="#DR" x="909.3"/><text class="f e" x="900.3">Microbacteriaceae</text><use href="#RF" x="670.7"/><text class="n" x="670.7">9</text><use href="#BF" x="694.8"/><text class="n" x="694.8">4</text><use href="#BO" x="743.2"/><text class="n" x="743.2">6</text></g>
<g id="rs-doc-06" transform="translate(0,644.9)"><use href="#DR" x="909.3"/><text class="f e" x="900.3">Micrococcaceae</text><use href="#RF" x="670.7"/><text class="n" x="670.7">7</text><use href="#BF" x="694.8"/><text class="n" x="694.8">4</text><use href="#BO" x="743.2"/><text class="n" x="743.2">2</text></g>
<g id="rs-doc-07" transform="translate(0,662.5)"><use href="#DR" x="909.3"/><text class="f e" x="900.3">Rhizobiaceae</text><use href="#RF" x="670.7"/><text class="n" x="670.7">5</text><use href="#BF" x="694.8"/><text class="n" x="694.8">3</text><use href="#RO" x="719"/><text class="n" x="719">1</text><use href="#BO" x="743.2"/><text class="n" x="743.2">4</text></g>
<g id="rs-doc-08" transform="translate(0,680.1)"><use href="#DR" x="909.3"/><text class="f e" x="900.3">Sphingobacteriaceae</text><use href="#RF" x="670.7"/><text class="n" x="670.7">9</text><use href="#BF" x="694.8"/><text class="n" x="694.8">4</text><use href="#BO" x="743.2"/><text class="n" x="743.2">6</text></g>
<g id="rs-doc-09" transform="translate(0,697.7)"><use href="#DB" x="909.3"/><text class="f e" x="900.3">Gemmatimonadaceae</text><use href="#RF" x="670.7"/><text class="n" x="670.7">2</text><use href="#BF" x="694.8"/><text class="n" x="694.8">7</text><use href="#RO" x="719"/><text class="n" x="719">8</text></g>
<g id="rs-doc-10" transform="translate(0,715.4)"><use href="#DB" x="909.3"/><text class="f e" x="900.3">Nitrospiraceae</text><use href="#RF" x="670.7"/><text class="n" x="670.7">2</text><use href="#BF" x="694.8"/><text class="n" x="694.8">4</text><use href="#RO" x="719"/><text class="n" x="719">3</text><use href="#BO" x="743.2"/><text class="n" x="743.2">1</text></g>
<g id="rs-doc-11" transform="translate(0,733)"><use href="#DB" x="909.3"/><text class="f e" x="900.3">Pyrinomonadaceae</text><use href="#RF" x="670.7"/><text class="n" x="670.7">3</text><use href="#BF" x="694.8"/><text class="n" x="694.8">8</text><use href="#RO" x="719"/><text class="n" x="719">6</text><use href="#BO" x="743.2"/><text class="n" x="743.2">1</text></g>
<g id="rs-doc-12" transform="translate(0,750.6)"><use href="#DB" x="909.3"/><text class="f e" x="900.3">Rubrobacteriaceae</text><use href="#RF" x="670.7"/><text class="n" x="670.7">6</text><use href="#BF" x="694.8"/><text class="n" x="694.8">4</text><use href="#RO" x="719"/><text class="n" x="719">7</text><use href="#BO" x="743.2"/><text class="n" x="743.2">1</text></g>
<g id="rs-doc-13" transform="translate(0,768.3)"><use href="#OR" x="909.3"/><text class="f e" x="900.3">Microdochiaceae</text><use href="#RF" x="670.7"/><text class="n" x="670.7">4</text><use href="#BF" x="694.8"/><text class="n" x="694.8">3</text><use href="#BO" x="743.2"/><text class="n" x="743.2">3</text></g>
<g id="rs-doc-14" transform="translate(0,785.9)"><use href="#OB" x="909.3"/><text class="f e" x="900.3">Ascobolaceae</text><use href="#RF" x="670.7"/><text class="n" x="670.7">4</text><use href="#BF" x="694.8"/><text class="n" x="694.8">8</text><use href="#RO" x="719"/><text class="n" x="719">5</text><use href="#BO" x="743.2"/><text class="n" x="743.2">1</text></g>
<g id="rs-doc-15" transform="translate(0,803.5)"><use href="#OB" x="909.3"/><text class="f e" x="900.3">Bolbitiaceae</text><use href="#RF" x="670.7"/><text class="n" x="670.7">2</text><use href="#BF" x="694.8"/><text class="n" x="694.8">9</text><use href="#RO" x="719"/><text class="n" x="719">3</text></g>
<g id="rs-doc-16" transform="translate(0,821.2)"><use href="#OB" x="909.3"/><text class="f e" x="900.3">Chaetomiaceae</text><use href="#RF" x="670.7"/><text class="n" x="670.7">3</text><use href="#BF" x="694.8"/><text class="n" x="694.8">7</text><use href="#BO" x="743.2"/><text class="n" x="743.2">7</text></g>
<g id="rs-doc-17" transform="translate(0,838.8)"><use href="#OB" x="909.3"/><text class="f e" x="900.3">Hypocreaceae</text><use href="#RF" x="670.7"/><text class="n" x="670.7">7</text><use href="#BF" x="694.8"/><text class="n" x="694.8">5</text><use href="#RO" x="719"/><text class="n" x="719">7</text><use href="#BO" x="743.2"/><text class="n" x="743.2">1</text></g>
<g id="rs-doc-18" transform="translate(0,856.4)"><use href="#OB" x="909.3"/><text class="f e" x="900.3">Microascaceae</text><use href="#RF" x="670.7"/><text class="n" x="670.7">7</text><use href="#BF" x="694.8"/><text class="n" x="694.8">4</text><use href="#RO" x="719"/><text class="n" x="719">6</text><use href="#BO" x="743.2"/><text class="n" x="743.2">1</text></g>
<g id="rs-doc-19" transform="translate(0,874)"><use href="#OB" x="909.3"/><text class="f e" x="900.3">Torulaceae</text><use href="#RF" x="670.7"/><text class="n" x="670.7">2</text><use href="#BF" x="694.8"/><text class="n" x="694.8">9</text><use href="#RO" x="719"/><text class="n" x="719">3</text></g>

<!-- RS TOC / AOC / MBC -->
<g id="rs-toc-1" transform="translate(0,515)"><use href="#DR" x="1020.7"/><text class="f" x="1032.7">Caulobacteraceae</text></g>
<g id="rs-toc-2" transform="translate(0,533)"><use href="#OR" x="1020.7"/><text class="f" x="1032.7">Didymellaceae</text><use href="#RF" x="1183" y="1.5"/><text class="n" x="1183" y="1.5">1</text><use href="#BF" x="1207" y="1.5"/><text class="n" x="1207" y="1.5">1</text><use href="#BO" x="1255.3" y="1.5"/><text class="n" x="1255.3" y="1.5">1</text></g>
<g id="rs-aoc-1" transform="translate(0,624)"><use href="#OB" x="1024"/><text class="f" x="1034">Piptocephalidaceae</text><use href="#RF" x="1183"/><text class="n" x="1183">2</text><use href="#BF" x="1207"/><text class="n" x="1207">1</text></g>
<g id="rs-mbc-1" transform="translate(0,699.3)"><use href="#DR" x="1021.7"/><text class="f" x="1033.3">Streptomycetaceae</text><use href="#RF" x="1183"/><text class="n" x="1183">2</text><use href="#BF" x="1207"/><text class="n" x="1207">3</text><use href="#BO" x="1255.3"/><text class="n" x="1255.3">7</text></g>
<g id="rs-mbc-2" transform="translate(0,717)"><use href="#OB" x="1021.7"/><text class="f" x="1033.3">Aspergillaceae</text><use href="#RF" x="1183"/><text class="n" x="1183">4</text><use href="#BF" x="1207"/><text class="n" x="1207">3</text><use href="#RO" x="1232"/><text class="n" x="1232">6</text></g>
<g id="rs-mbc-3" transform="translate(0,734.7)"><use href="#OB" x="1021.7"/><text class="f" x="1033.3">Helotiaceae</text><use href="#RF" x="1183"/><text class="n" x="1183">1</text><use href="#BF" x="1207"/><text class="n" x="1207">1</text><use href="#RO" x="1232"/><text class="n" x="1232">4</text></g>
<g id="rs-mbc-4" transform="translate(0,752.3)"><use href="#OB" x="1021.7"/><text class="f" x="1033.3">Mycosphaerellaceae</text><use href="#BF" x="1207"/><text class="n" x="1207">1</text><use href="#RO" x="1232"/><text class="n" x="1232">3</text></g>
<g id="rs-mbc-5" transform="translate(0,770)"><use href="#OB" x="1021.7"/><text class="f" x="1033.3">Pleosporaceae</text><use href="#RF" x="1183"/><text class="n" x="1183">4</text><use href="#BF" x="1207"/><text class="n" x="1207">2</text><use href="#RO" x="1232"/><text class="n" x="1232">3</text></g>

<g id="caption">
<text class="caph" x="40" y="935" textLength="82">FIGURE 5</text>
<text class="cap" x="40" y="958.5" textLength="1179">Correlations between soil carbon fractions and microbial families (<tspan font-style="italic">p</tspan> &lt; 0.05). Red plots indicate positive correlation; blue plots indicate negative</text>
<text class="cap" x="40" y="982.3" textLength="1215">correlation; solid plots indicate correlation with bacterial family; blank plots indicate correlation with fungal family. The number in the box plot</text>
<text class="cap" x="40" y="1006.1" textLength="1207">indicates the number of correlations between the known family and other bacterial or fungal families. For example, <tspan font-style="italic">Bacillaceae</tspan> was positively</text>
<text class="cap" x="40" y="1029.9" textLength="1206">correlated with six bacterial families, negatively correlated with 11 bacterial families, positively correlated with one fungal family, and negatively</text>
<text class="cap" x="40" y="1053.7" textLength="1221">correlated with six fungal families under the C treatment. C: continuous maize cropping without straw retention; CS: continuous maize cropping</text>
<text class="cap" x="40" y="1077.5" textLength="1018">with straw mulching; R: maize-peanut rotation without straw retention; RS: maize-peanut rotation with straw mulching.</text>
</g>
</svg>
